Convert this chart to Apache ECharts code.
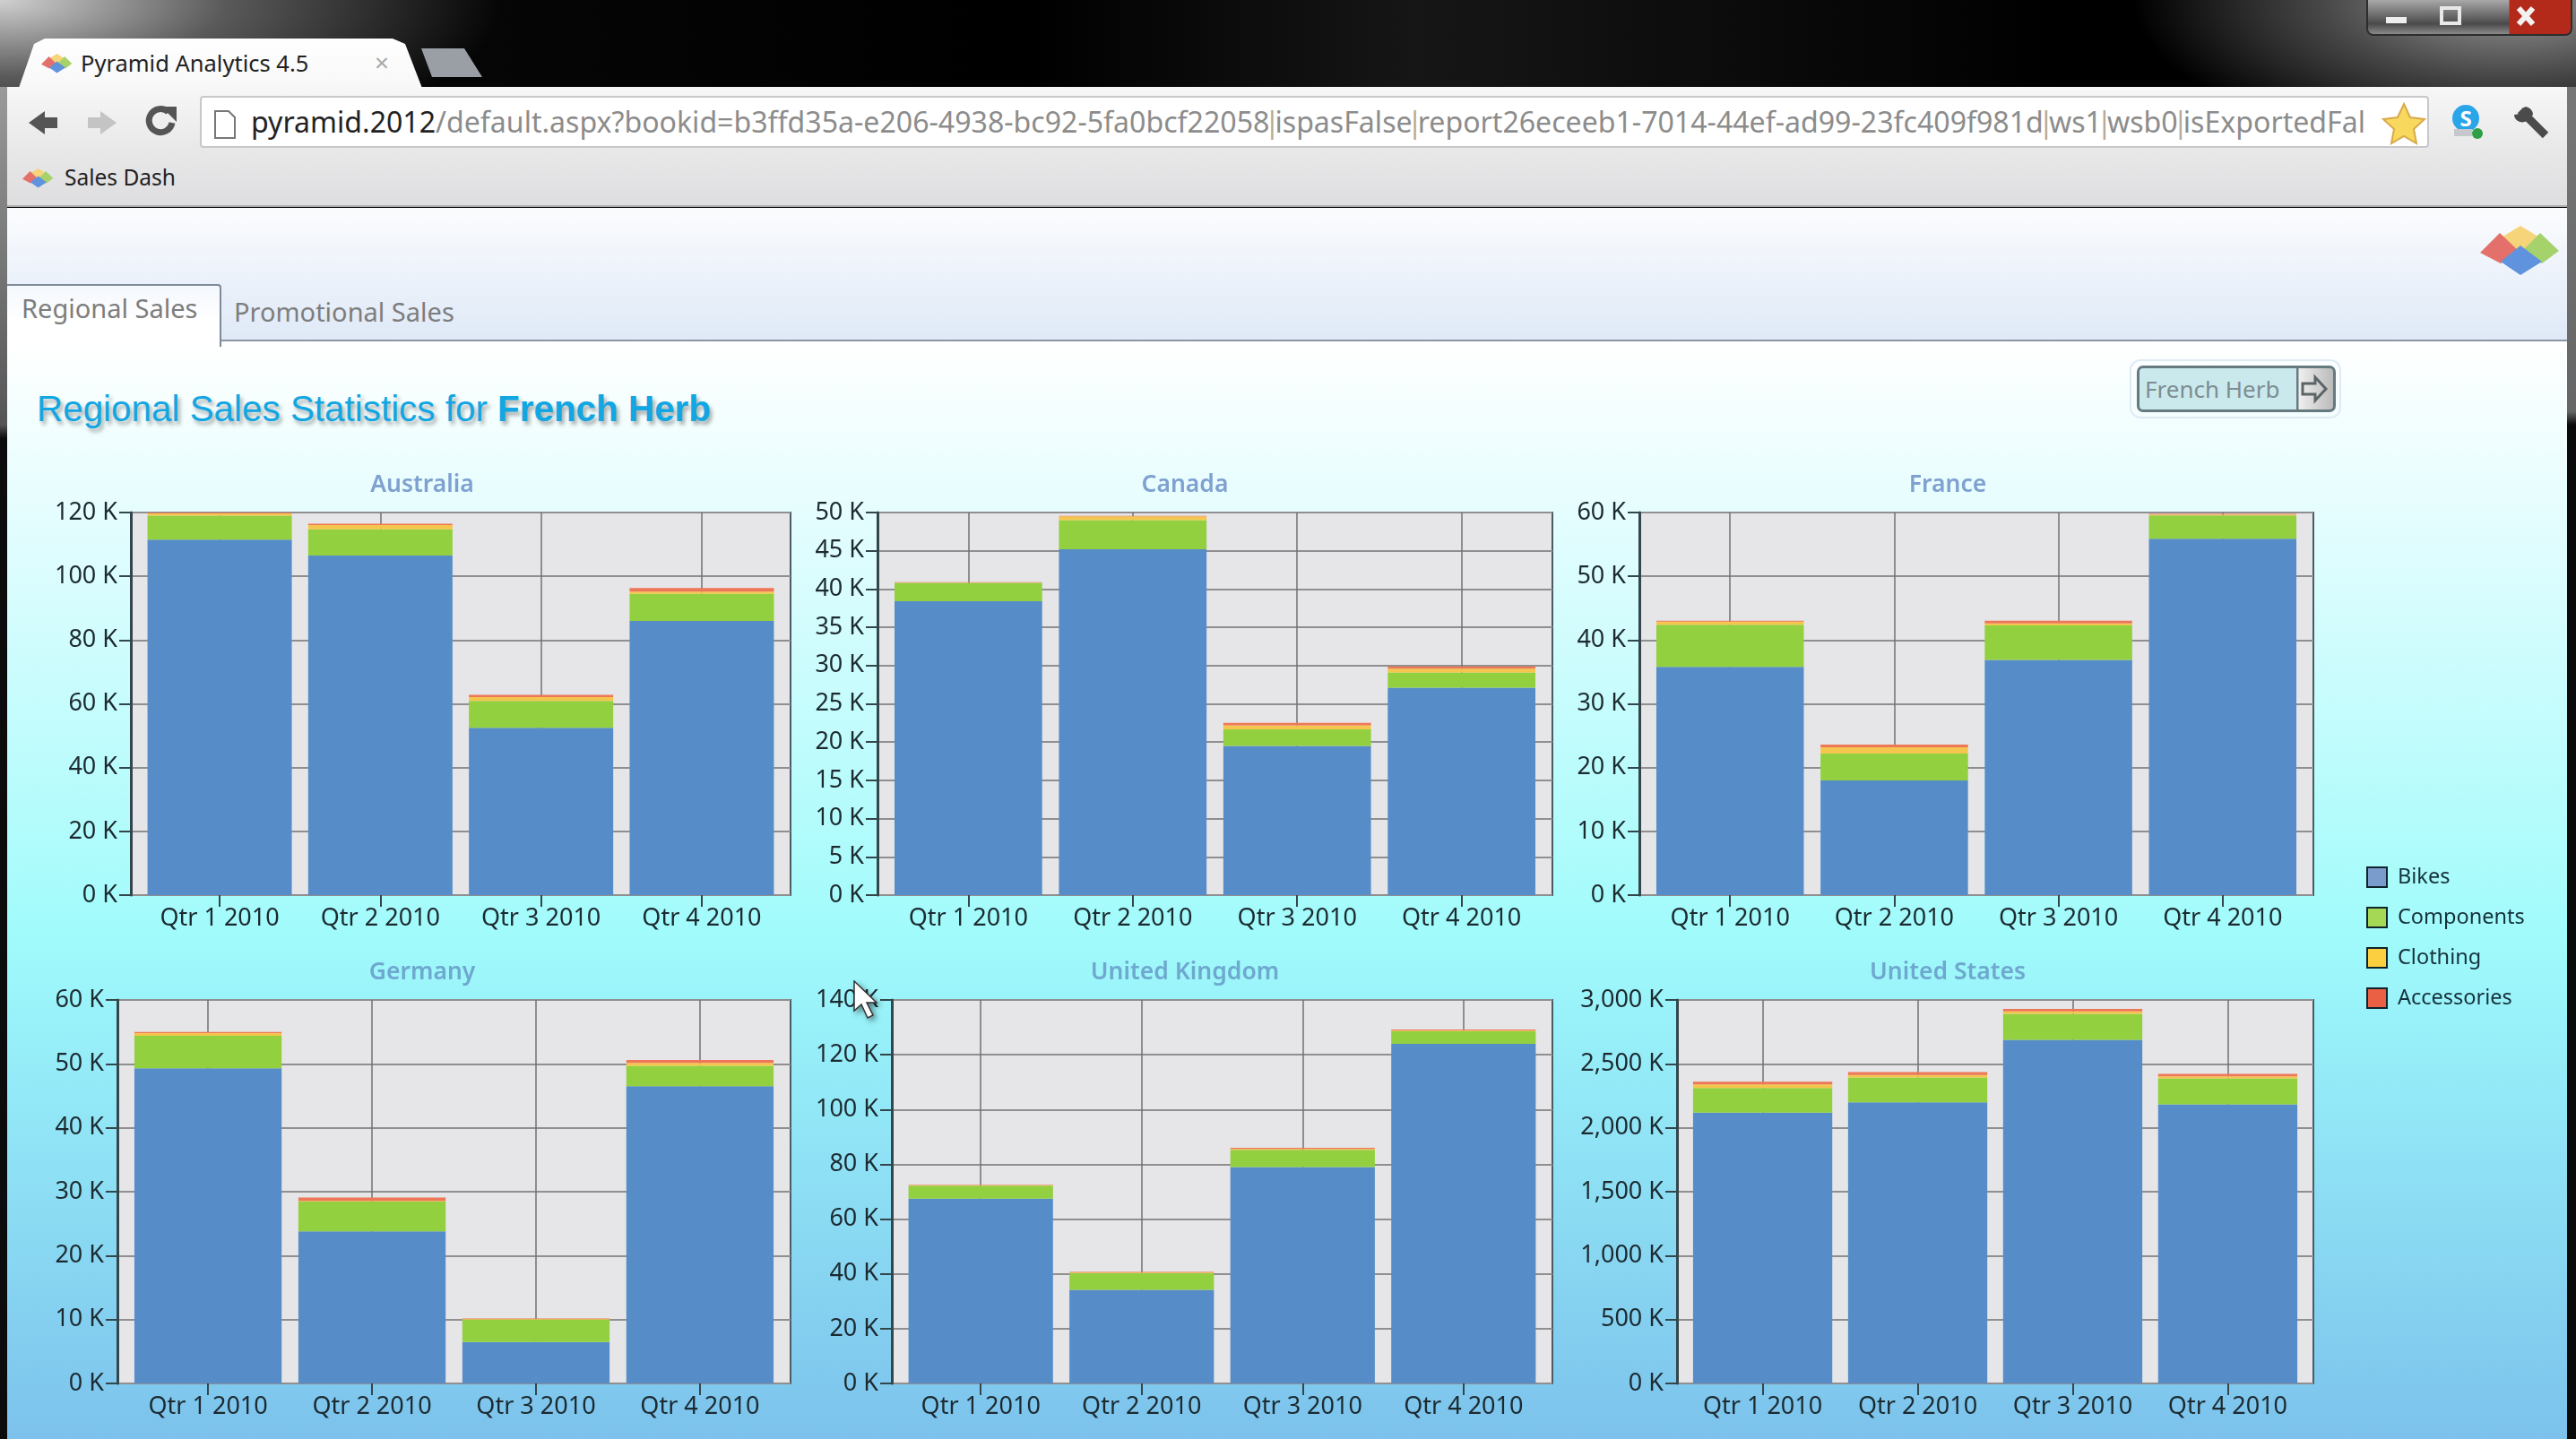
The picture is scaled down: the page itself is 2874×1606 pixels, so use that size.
<!DOCTYPE html>
<html>
<head>
<meta charset="utf-8">
<title>Pyramid Analytics 4.5</title>
<script src="https://cdn.jsdelivr.net/npm/echarts@6/dist/echarts.min.js"></script>
<style>
  html, body { margin: 0; padding: 0; width: 2874px; height: 1606px; overflow: hidden; background: #000; font-family: "Noto Sans", sans-serif; }
  .abs { position: absolute; white-space: nowrap; }
  #frame { left: 0; top: 0; width: 2874px; height: 110px;
    background:
      radial-gradient(ellipse 420px 170px at 2800px 0px, #9a9a9a 0%, rgba(95,95,95,.75) 50%, rgba(0,0,0,0) 100%),
      radial-gradient(ellipse 560px 190px at 0px 0px, #d0d0d0 0%, rgba(110,110,110,.8) 45%, rgba(0,0,0,0) 100%),
      linear-gradient(90deg, #0a0a0a, #000 40%, #161616 55%, #000 80%); }
  #sideL { left: 0; top: 97px; width: 8px; height: 1509px; background: linear-gradient(#9a9a9a, #555 25%, #0c0c0c 26%); }
  #sideR { left: 2864px; top: 97px; width: 10px; height: 1509px; background: linear-gradient(#777, #666 24%, #0a0a0a 25%); }
  #toolbar { left: 8px; top: 97px; width: 2856px; height: 134px; background: linear-gradient(#f7f7f7, #e9e9ea 50%, #dedee0); border-bottom: 2px solid #adadb0; box-sizing: border-box; }
  #tab { left: 20px; top: 43px; width: 452px; height: 58px; background: linear-gradient(#ffffff, #f7f7f7); clip-path: polygon(0 100%, 18px 6px, 30px 0, 418px 0, 432px 6px, 452px 100%); }
  #newtab { left: 470px; top: 54px; width: 68px; height: 32px; background: #9a9ea5; clip-path: polygon(0 0, 48px 0, 68px 100%, 12px 100%); }
  #url { left: 223px; top: 107px; width: 2487px; height: 58px; background: #fff; border: 2px solid #c8c8ca; border-radius: 4px; box-sizing: border-box; }
  #urltext { left: 280px; top: 114px; width: 2372px; overflow: hidden; font-size: 32.1px; line-height: 44px; color: #8c8c8c; }
  #urltext b { font-weight: 400; color: #222; }
  #urltext i { font-style: normal; margin-left: -0.18em; letter-spacing: -0.18em; color: #b9a98f; }
  #band { left: 8px; top: 232px; width: 2856px; height: 149px; background: linear-gradient(#fbfcfe, #dfe9f7); border-bottom: 2px solid #8b97a3; box-sizing: border-box; }
  #page { left: 8px; top: 381px; width: 2856px; height: 1225px; background: linear-gradient(#ffffff 0%, #e6fdfe 15%, #a1fbfb 54%, #98f1f9 62%, #7cc2ec 100%); }
  #tab1 { left: 8px; top: 317px; width: 239px; height: 70px; background: linear-gradient(#f4f8fd, #fff 60%); border: 2px solid #7f8b96; border-left: 0; border-bottom: 0; border-radius: 0 4px 0 0; box-sizing: border-box; }
  #pagetitle { left: 41px; top: 430px; font-family: "Liberation Sans", Arial, sans-serif; font-size: 40.4px; line-height: 52px; color: #12a6e2; text-shadow: 3px 4px 4px rgba(70,70,70,.45); }
  #btnhalo { left: 2376px; top: 401px; width: 236px; height: 66px; border: 2px solid #dfeaf4; border-radius: 12px; box-sizing: border-box; }
  #btn { left: 2384px; top: 408px; width: 222px; height: 52px; border: 3px solid #65797f; border-radius: 7px; box-sizing: border-box; background: linear-gradient(90deg, #c9e9ed 0, #c9e9ed 175px, #6a7a7e 175px, #6a7a7e 177px, #eee 178px, #bbb 100%); }
  #chart { left: 0; top: 0; width: 2874px; height: 1606px; }
  #wbtn { left: 2640px; top: 0; width: 230px; height: 40px; border: 2px solid #2d2d2d; border-top: 0; border-radius: 0 0 8px 8px; box-sizing: border-box; overflow: hidden;
    background: linear-gradient(90deg, rgba(255,255,255,0) 0, rgba(255,255,255,0) 157px, #b42a1a 158px, #b42a1a 100%), linear-gradient(#a8a8a8, #4a4a4a 70%, #8a8a8a); }
</style>
</head>
<body>
<div class="abs" id="frame"></div>
<div class="abs" id="sideL"></div>
<div class="abs" id="sideR"></div>
<div class="abs" id="newtab"></div>
<div class="abs" id="toolbar"></div>
<div class="abs" id="tab"></div>
<div class="abs" id="url"></div>
<div class="abs" id="urltext"><b>pyramid.2012</b>/default.aspx?bookid=b3ffd35a-e206-4938-bc92-5fa0bcf22058<i>|</i>ispasFalse<i>|</i>report26eceeb1-7014-44ef-ad99-23fc409f981d<i>|</i>ws1<i>|</i>wsb0<i>|</i>isExportedFal</div>
<div class="abs" id="band"></div>
<div class="abs" id="page"></div>
<div class="abs" id="tab1"></div>
<div class="abs" style="left:24px;top:325px;font-size:29px;line-height:38px;color:#7d7d7d">Regional Sales</div>
<div class="abs" style="left:261px;top:329px;font-size:29px;line-height:38px;color:#7d7d7d">Promotional Sales</div>
<div class="abs" style="left:90px;top:52px;font-size:25.5px;line-height:36px;color:#222">Pyramid Analytics 4.5</div>
<div class="abs" style="left:418px;top:50px;font-size:28px;line-height:38px;color:#aaa">×</div>
<div class="abs" style="left:72px;top:180px;font-size:24.5px;line-height:36px;color:#222">Sales Dash</div>
<div class="abs" id="pagetitle">Regional Sales Statistics for <b>French Herb</b></div>
<div class="abs" id="btnhalo"></div>
<div class="abs" id="btn"></div>
<div class="abs" style="left:2393px;top:416px;font-size:26px;line-height:36px;color:#7f8c90">French Herb</div>
<div class="abs" id="wbtn"></div>

<!-- toolbar and window icons -->
<svg class="abs" style="left:0;top:0" width="2874" height="500" viewBox="0 0 2874 500">
  <defs>
    <g id="pyr">
      <polygon points="45,0 22,14 45,30 68,14" fill="#f6d47a"/>
      <polygon points="0,30 22,8 45,30 23,42" fill="#e4706c"/>
      <polygon points="67,8 88,28 69,42 45,30" fill="#a6d26c"/>
      <polygon points="45,22 23,40 45,55 69,40" fill="#5f93de"/>
    </g>
  </defs>
  <use href="#pyr" transform="translate(46,60) scale(.39)"/>
  <use href="#pyr" transform="translate(25,188) scale(.39)"/>
  <use href="#pyr" transform="translate(2767,252)"/>
  <path d="M64 137 L46 124 L46 131 L32 131 L32 143 L46 143 L46 150 Z" transform="matrix(-1 0 0 1 96 0)" fill="#555"/>
  <path d="M130 137 L112 124 L112 131 L98 131 L98 143 L112 143 L112 150 Z" fill="#c4c4c4"/>
  <path d="M192 137 A13 13 0 1 1 188 125" fill="none" stroke="#555" stroke-width="7"/>
  <polygon points="180,119 197,119 197,136" fill="#555"/>
  <path d="M240 124 L255 124 L262 131 L262 154 L240 154 Z" fill="#fff" stroke="#777" stroke-width="2"/>
  <polygon points="2682,116 2689,131 2705,133 2693,144 2696,160 2682,152 2668,160 2671,144 2659,133 2675,131" fill="#f8d95e" stroke="#d9a94a" stroke-width="2"/>
  <circle cx="2751" cy="132" r="15" fill="#2aa5e8"/>
  <text x="2751" y="141" font-size="24" font-weight="700" text-anchor="middle" fill="#fff" font-family="Noto Sans">S</text>
  <rect x="2738" y="144" width="20" height="8" fill="#c5c9cc"/>
  <circle cx="2764" cy="149" r="6" fill="#2f9e44"/>
  <path d="M2812 123 L2840 151" stroke="#4b4b4b" stroke-width="9"/>
  <path d="M2805 128 A9 9 0 0 0 2820 134 L2826 128 A9 9 0 0 0 2817 119 L2812 127 Z" fill="#4b4b4b"/>
  <rect x="2662" y="19" width="23" height="7" fill="#eee"/>
  <rect x="2724" y="9" width="20" height="17" fill="none" stroke="#e8e8e8" stroke-width="4"/>
  <path d="M2810 9 L2826 27 M2826 9 L2810 27" stroke="#f2f2f2" stroke-width="6"/>
  <path d="M2572 428 L2586 428 L2586 421 L2598 434 L2586 447 L2586 440 L2572 440 Z" fill="none" stroke="#5b6467" stroke-width="3" transform="translate(-3,0)"/>
</svg>

<div class="abs" id="chart"></div>

<!-- mouse pointer -->
<svg class="abs" style="left:950px;top:1094px;filter:drop-shadow(3px 3px 3px rgba(0,0,0,.45))" width="40" height="50" viewBox="0 0 40 50">
  <path d="M3 1 L3 34 L11 27 L18 42 L24 39 L17 25 L28 25 Z" fill="#fff" stroke="#333" stroke-width="1.5"/>
</svg>

<script>
// sales in thousands (Bikes, Components, Clothing, Accessories per quarter)
var quarters = ['Qtr 1 2010', 'Qtr 2 2010', 'Qtr 3 2010', 'Qtr 4 2010'];
var regions = [
  { name: 'Australia', max: 120, step: 20, rect: [146, 572, 882, 999], titleColor: '#7ea1d0',
    bikes: [111.5, 106.5, 52.5, 86], components: [7.5, 8.2, 8.4, 8.5], clothing: [0.7, 1.4, 1.2, 0.7], accessories: [0.2, 0.4, 0.7, 1.1] },
  { name: 'Canada', max: 50, step: 5, rect: [979, 572, 1732, 999], titleColor: '#7ea1d0',
    bikes: [38.4, 45.2, 19.5, 27.1], components: [2.4, 3.8, 2.15, 2], clothing: [0.05, 0.5, 0.55, 0.5], accessories: [0.05, 0.05, 0.3, 0.3] },
  { name: 'France', max: 60, step: 10, rect: [1829, 572, 2581, 999], titleColor: '#7ea1d0',
    bikes: [35.8, 18, 36.9, 55.9], components: [6.6, 4.2, 5.4, 3.65], clothing: [0.5, 1, 0.3, 0.15], accessories: [0.15, 0.4, 0.45, 0.1] },
  { name: 'Germany', max: 60, step: 10, rect: [131, 1116, 882, 1544], titleColor: '#6ea8cf',
    bikes: [49.3, 23.8, 6.5, 46.5], components: [5.1, 4.65, 3.5, 3.2], clothing: [0.4, 0.1, 0.1, 0.45], accessories: [0.2, 0.55, 0.05, 0.45] },
  { name: 'United Kingdom', max: 140, step: 20, rect: [995, 1116, 1732, 1544], titleColor: '#6ea8cf',
    bikes: [67.5, 34.2, 79, 124], components: [4.7, 6.05, 6.3, 4.6], clothing: [0.2, 0.2, 0.3, 0.3], accessories: [0.1, 0.25, 0.4, 0.3] },
  { name: 'United States', max: 3000, step: 500, rect: [1871, 1116, 2581, 1544], titleColor: '#6ea8cf',
    bikes: [2118, 2200, 2688, 2183], components: [193, 193, 203, 203], clothing: [29, 20, 19, 17], accessories: [20, 22, 20, 19] }
];
var layers = [
  { name: 'Bikes', key: 'bikes', color: '#568dc9', swatch: '#7a9ccc' },
  { name: 'Components', key: 'components', color: '#92d03f', swatch: '#a4d855' },
  { name: 'Clothing', key: 'clothing', color: '#f5c64e', swatch: '#fbcf3f' },
  { name: 'Accessories', key: 'accessories', color: '#ee7757', swatch: '#e96045' }
];

var labelFont = '"Noto Sans", sans-serif';
var labelColor = '#1c2a30';
var lineColor = '#33464c';

var titles = [], grids = [], xAxes = [], yAxes = [], series = [];

regions.forEach(function (r, i) {
  var left = r.rect[0], top = r.rect[1], right = r.rect[2], bottom = r.rect[3];
  var inset = (right - left) * 0.0128;

  titles.push({
    text: r.name,
    left: (left > 1800 ? 2168 : left > 900 ? 1317 : 466),
    top: top - 49,
    textAlign: 'center',
    textStyle: { color: r.titleColor, fontFamily: labelFont, fontSize: 26.5, fontWeight: 600 }
  });

  // outer grid: plot background, frame, value axis. inner grid: the bars, inset so the
  // gap at each end of the plot is as wide as the gaps between the bars
  grids.push({ left: left, top: top, width: right - left, height: bottom - top, show: true,
    backgroundColor: '#e6e5e8', borderColor: '#4a5c62', borderWidth: 2 });
  grids.push({ left: left + inset, top: top, width: right - left - 2 * inset, height: bottom - top });

  xAxes.push({ type: 'category', gridIndex: 2 * i, show: false, data: quarters });
  yAxes.push({
    type: 'value', gridIndex: 2 * i, min: 0, max: r.max, interval: r.step,
    axisLine: { show: true, lineStyle: { color: lineColor, width: 3 } },
    axisTick: { show: true, length: 13, lineStyle: { color: lineColor, width: 2 } },
    axisLabel: { margin: 15, padding: [5, 0, 0, 0], color: labelColor, fontFamily: labelFont, fontSize: 27,
      formatter: function (v) { return v.toLocaleString('en-US') + ' K'; } },
    splitLine: { show: true, lineStyle: { color: '#8f8f8f', width: 2 } }
  });

  xAxes.push({
    type: 'category', gridIndex: 2 * i + 1, data: quarters,
    axisLine: { show: false },
    axisTick: { show: true, interval: 0, alignWithLabel: true, length: 13, lineStyle: { color: lineColor, width: 2 } },
    axisLabel: { interval: 0, margin: 13, color: labelColor, fontFamily: labelFont, fontSize: 27 },
    splitLine: { show: true, interval: 0, alignWithLabel: true, lineStyle: { color: '#707070', width: 1.5 } }
  });
  yAxes.push({ type: 'value', gridIndex: 2 * i + 1, min: 0, max: r.max, interval: r.step, show: false, splitLine: { show: false } });

  layers.forEach(function (l) {
    series.push({
      name: l.name, type: 'bar', stack: r.name, xAxisIndex: 2 * i + 1, yAxisIndex: 2 * i + 1,
      barWidth: '89.8%', data: r[l.key], itemStyle: { color: l.color }, animation: false
    });
  });
});

var myChart = echarts.init(document.getElementById('chart'));
myChart.setOption({
  animation: false,
  backgroundColor: 'transparent',
  title: titles,
  legend: {
    orient: 'vertical', left: 2640, top: 967, padding: 0, itemWidth: 22, itemHeight: 22, itemGap: 21,
    itemStyle: { borderColor: '#10242c', borderWidth: 2 },
    textStyle: { color: '#16323c', fontFamily: labelFont, fontSize: 23.5, lineHeight: 24, padding: [0, 0, 0, 7] },
    icon: 'rect',
    data: layers.map(function (l) { return { name: l.name, itemStyle: { color: l.swatch } }; })
  },
  grid: grids,
  xAxis: xAxes,
  yAxis: yAxes,
  series: series
});
</script>
</body>
</html>
